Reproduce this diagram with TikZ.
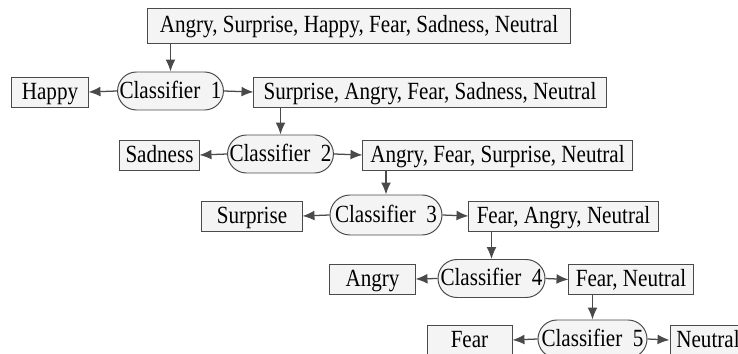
\documentclass[tikz,border=0pt]{standalone}
\usepackage{fontspec}
\setmainfont{Liberation Serif}
\usepackage{xcolor}
\usepackage{graphicx}
\usepackage{tikz}
\usetikzlibrary{arrows.meta,shapes.misc}

\definecolor{linegray}{HTML}{4A4A4A}
\definecolor{boxfill}{HTML}{F4F4F4}

\newcommand{\stretchtxt}[1]{\scalebox{1}[1.17]{#1}}

\tikzset{
  lbl/.style={draw=linegray, fill=boxfill, rectangle, inner sep=0pt,
    minimum height=0.75cm, line width=0.7pt, text height=11pt, text depth=1pt},
  clf/.style={draw=linegray, fill=boxfill, rounded rectangle, inner sep=0pt,
    minimum height=0.95cm, line width=0.7pt, text height=11pt, text depth=1pt},
  arr/.style={draw=linegray, line width=0.9pt, -{Latex[length=8.5pt,width=7pt]}}
}

\begin{document}
\begin{tikzpicture}[x=0.025cm, y=-0.025cm, font=\fontsize{15}{18}\selectfont]
\useasboundingbox (0,0) rectangle (738,354);
\clip (0,0) rectangle (738,354);

\node[lbl, minimum width=10.55cm, minimum height=0.875cm] (top) at (359,25.5) {\stretchtxt{Angry, Surprise, Happy, Fear, Sadness, Neutral}};

% level 1
\node[lbl, minimum width=1.9cm] (happy) at (50,92) {\stretchtxt{Happy}};
\node[clf, minimum width=2.625cm] (clf1) at (170.5,91) {\stretchtxt{Classifier~~1}};
\node[lbl, minimum width=8.8cm] (rest1) at (430,92) {\stretchtxt{Surprise, Angry, Fear, Sadness, Neutral}};

% level 2
\node[lbl, minimum width=1.975cm] (sadness) at (159.5,155) {\stretchtxt{Sadness}};
\node[clf, minimum width=2.625cm] (clf2) at (280.5,154) {\stretchtxt{Classifier~~2}};
\node[lbl, minimum width=6.725cm] (rest2) at (497.5,155) {\stretchtxt{Angry, Fear, Surprise, Neutral}};

% level 3
\node[lbl, minimum width=2.5cm] (surprise) at (252,216) {\stretchtxt{Surprise}};
\node[clf, minimum width=2.8cm, minimum height=1cm] (clf3) at (386,215) {\stretchtxt{Classifier~~3}};
\node[lbl, minimum width=4.725cm] (rest3) at (563.5,216) {\stretchtxt{Fear, Angry, Neutral}};

% level 4
\node[lbl, minimum width=2.125cm] (angry) at (372.5,279) {\stretchtxt{Angry}};
\node[clf, minimum width=2.675cm] (clf4) at (491.5,278.5) {\stretchtxt{Classifier~~4}};
\node[lbl, minimum width=3.1cm] (rest4) at (631,279.5) {\stretchtxt{Fear, Neutral}};

% level 5
\node[lbl, minimum width=2.125cm] (fear) at (469.5,340) {\stretchtxt{Fear}};
\node[clf, minimum width=2.725cm] (clf5) at (592.5,339) {\stretchtxt{Classifier~~5}};
\node[lbl, minimum width=1.9cm] (neutral) at (708,340) {\stretchtxt{Neutral}};

% arrows
\draw[arr] (top.south -| clf1.north) -- (clf1.north);
\draw[arr] (rest1.south -| clf2.north) -- (clf2.north);
\draw[arr] (rest2.south -| clf3.north) -- (clf3.north);
\draw[arr] (rest3.south -| clf4.north) -- (clf4.north);
\draw[arr] (rest4.south -| clf5.north) -- (clf5.north);

\draw[arr] (clf1.west) -- (happy.east);
\draw[arr] (clf1.east) -- (rest1.west);
\draw[arr] (clf2.west) -- (sadness.east);
\draw[arr] (clf2.east) -- (rest2.west);
\draw[arr] (clf3.west) -- (surprise.east);
\draw[arr] (clf3.east) -- (rest3.west);
\draw[arr] (clf4.west) -- (angry.east);
\draw[arr] (clf4.east) -- (rest4.west);
\draw[arr] (clf5.west) -- (fear.east);
\draw[arr] (clf5.east) -- (neutral.west);
\end{tikzpicture}
\end{document}
